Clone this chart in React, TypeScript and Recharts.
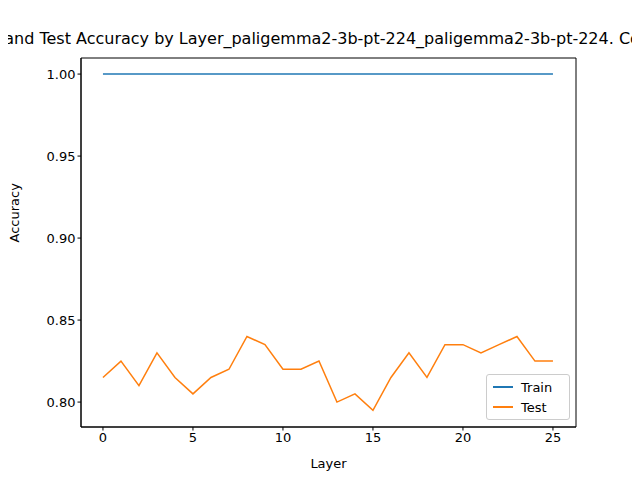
import React from 'react';
import { LineChart, Line, XAxis, YAxis, ReferenceArea, Text } from 'recharts';

const layers = Array.from({ length: 26 }, (_, i) => i);
const trainAcc = [1, 1, 1, 1, 1, 1, 1, 1, 1, 1, 1, 1, 1, 1, 1, 1, 1, 1, 1, 1, 1, 1, 1, 1, 1, 1];
const testAcc = [0.815, 0.825, 0.81, 0.83, 0.815, 0.805, 0.815, 0.82, 0.84, 0.835, 0.82, 0.82, 0.825, 0.8, 0.805, 0.795, 0.815, 0.83, 0.815, 0.835, 0.835, 0.83, 0.835, 0.84, 0.825, 0.825];
const xTicks = [0, 5, 10, 15, 20, 25];
const yTicks = [0.8, 0.85, 0.9, 0.95, 1.0];

const data = layers.map((l, i) => ({ layer: l, train: trainAcc[i], test: testAcc[i] }));
const font = 'DejaVu Sans, sans-serif';
const tick = { fill: '#000', fontSize: 13, fontFamily: font };
const xDom: [number, number] = [-1.22, 26.28];
const yDom: [number, number] = [0.7848, 1.0098];

function LegendBox() {
  const items = [{ name: 'Train', color: '#1f77b4' }, { name: 'Test', color: '#ff7f0e' }];
  return (
    <div style={{ position: 'absolute', left: 486, top: 374, width: 70, border: '1px solid #ccc', borderRadius: 3, background: '#fff', padding: '2px 6px', fontFamily: font }}>
      {items.map((it) => (
        <div key={it.name} style={{ display: 'flex', alignItems: 'center', height: 20 }}>
          <span style={{ display: 'inline-block', width: 20, height: 2, background: it.color, marginRight: 8 }} />
          <span style={{ fontSize: 13 }}>{it.name}</span>
        </div>
      ))}
    </div>
  );
}

export default function App() {
  return (
    <div style={{ margin: -8, width: 640, height: 480, background: '#fff', position: 'relative', overflow: 'hidden' }}>
      <LineChart width={640} height={480} data={data} margin={{ top: 58, right: 64, bottom: 0, left: 0 }}>
        <XAxis dataKey="layer" type="number" domain={xDom} ticks={xTicks} tick={tick} height={53}
          axisLine={{ stroke: '#000' }} tickLine={{ stroke: '#000' }} tickSize={3.5}
          label={{ value: 'Layer', position: 'insideBottom', offset: 12, fill: '#000', fontSize: 13, fontFamily: font }} />
        <YAxis type="number" domain={yDom} ticks={yTicks} tick={tick} width={81} tickFormatter={(v: number) => v.toFixed(2)}
          axisLine={{ stroke: '#000' }} tickLine={{ stroke: '#000' }} tickSize={3.5}
          label={{ value: 'Accuracy', angle: -90, position: 'insideLeft', offset: 14, fill: '#000', fontSize: 13, fontFamily: font }} />
        <ReferenceArea x1={xDom[0]} x2={xDom[1]} y1={yDom[0]} y2={yDom[1]} fill="none" stroke="#000" strokeOpacity={1} fillOpacity={0} />
        <Line dataKey="train" name="Train" stroke="#1f77b4" strokeWidth={1.5} dot={false} isAnimationActive={false} />
        <Line dataKey="test" name="Test" stroke="#ff7f0e" strokeWidth={1.5} dot={false} isAnimationActive={false} />
        <Text x={328} y={44} textAnchor="middle" fontSize={16} fontFamily={font} fill="#000">
          Train and Test Accuracy by Layer_paligemma2-3b-pt-224_paligemma2-3b-pt-224. Condition
        </Text>
      </LineChart>
      <LegendBox />
    </div>
  );
}
